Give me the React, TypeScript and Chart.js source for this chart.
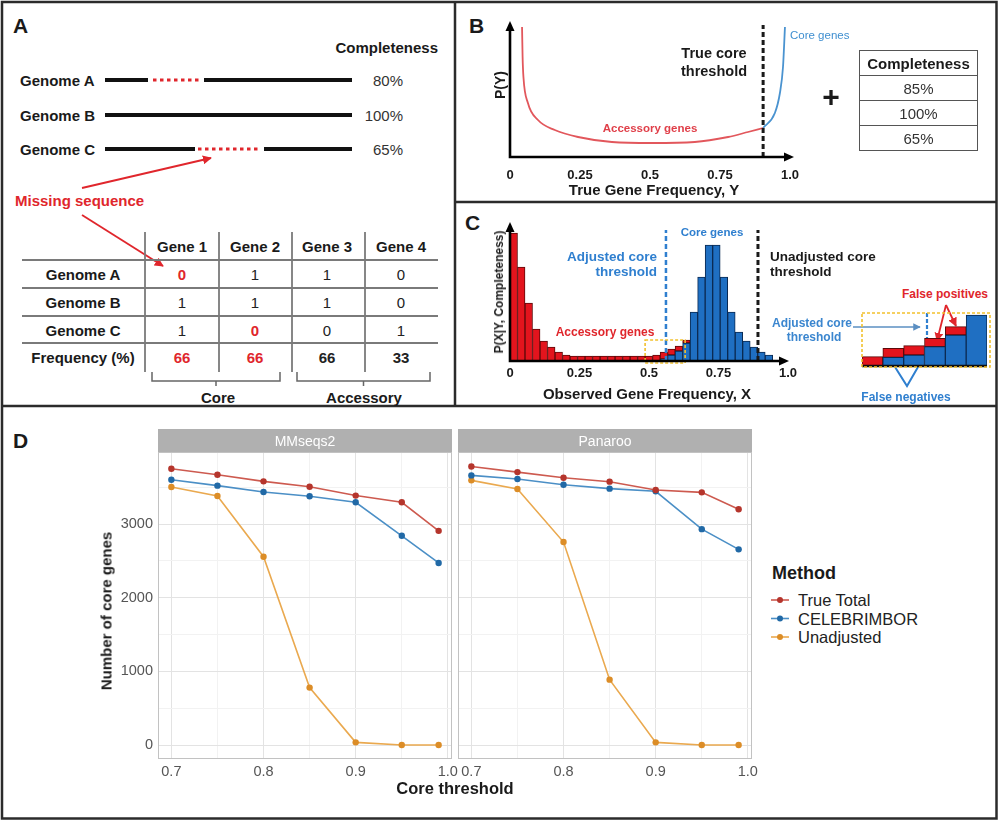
import React, { useEffect, useRef } from "react";
import { Chart, registerables } from "chart.js";

Chart.register(...registerables);

const FONT = "'Liberation Sans', Arial, Helvetica, sans-serif";
Chart.defaults.font.family = FONT;

// ---------------- Panel A (schematic) ----------------
const genomeNames = ["Genome A", "Genome B", "Genome C"];
const genomeCompleteness = ["80%", "100%", "65%"];
const geneNames = ["Gene 1", "Gene 2", "Gene 3", "Gene 4"];
const presenceMatrix = [
  [0, 1, 1, 0],
  [1, 1, 1, 0],
  [1, 0, 0, 1],
];
const missingCells = [
  [true, false, false, false],
  [false, false, false, false],
  [false, true, false, false],
];
const geneFrequency = [66, 66, 66, 33];
const frequencyHighlighted = [true, true, false, false];

// ---------------- Panel B ----------------
const accessoryTrueFreq = [0.043, 0.045, 0.048, 0.064, 0.1, 0.16, 0.243, 0.364, 0.507, 0.66, 0.779, 0.85, 0.904];
const accessoryDensity = [130, 100, 80, 54, 37, 27, 20, 15, 14, 15, 20, 25, 29];
const coreTrueFreq = [0.904, 0.946, 0.964, 0.975, 0.982];
const coreDensity = [29, 44, 64, 90, 130];
const trueCoreThreshold = 0.904;
const freqTickValues = [0, 0.25, 0.5, 0.75, 1.0];
const freqTickLabels = ["0", "0.25", "0.5", "0.75", "1.0"];
const samplingCompleteness = ["85%", "100%", "65%"];

// ---------------- Panel C ----------------
const binCenters = [
  0.0135, 0.0405, 0.0675, 0.0945, 0.1215, 0.1485, 0.1755, 0.2025, 0.2295, 0.2565, 0.2835, 0.3105,
  0.3375, 0.3645, 0.3915, 0.4185, 0.4455, 0.4725, 0.4995, 0.5265, 0.5535, 0.5805, 0.6075, 0.6345,
  0.6615, 0.6885, 0.7155, 0.7425, 0.7695, 0.7965, 0.8235, 0.8505, 0.8775, 0.9045, 0.9315,
];
const accessoryCounts = [
  128, 94, 58, 32, 20, 14, 9, 6, 5, 5, 5, 5, 5, 5, 5, 5, 5, 5, 5, 6, 7, 6, 5, 3,
  null, null, null, null, null, null, null, null, null, null, null,
];
const coreCounts = [
  null, null, null, null, null, null, null, null, null, null, null, null, null, null, null, null, null, null, null, null,
  2, 6, 10, 18, 49, 84, 116, 116, 84, 49, 29, 20, 14, 9, 6,
];
const adjustedCoreThreshold = 0.561;
const unadjustedCoreThreshold = 0.892;
const zoomWindow = [0.486, 0.63];
const zoomWindowTop = 21;
const insetBins = ["0.50", "0.53", "0.55", "0.58", "0.61", "0.63"];
const insetCore = [null, 8.7, 11, 19.3, 31, 51];
const insetAccessory = [9.3, 9, 9.3, 8.3, 8.3, null];
const insetThresholdIndex = 2.62;

// ---------------- Panel D ----------------
const thresholds = [0.7, 0.75, 0.8, 0.85, 0.9, 0.95, 0.99];
const mmseqsTrueTotal = [3753, 3672, 3581, 3509, 3388, 3297, 2909];
const mmseqsCelebrimbor = [3604, 3523, 3437, 3378, 3297, 2842, 2473];
const mmseqsUnadjusted = [3504, 3383, 2558, 780, 36, 0, 0];
const panarooTrueTotal = [3784, 3707, 3631, 3577, 3464, 3432, 3203];
const panarooCelebrimbor = [3662, 3613, 3536, 3482, 3446, 2932, 2658];
const panarooUnadjusted = [3595, 3477, 2757, 888, 36, 0, 0];
const methodNames = ["True Total", "CELEBRIMBOR", "Unadjusted"];
const facetNames = ["MMseqs2", "Panaroo"];
const thresholdTicks = [0.7, 0.75, 0.8, 0.85, 0.9, 0.95, 1.0];
const coreGeneTicks = [0, 500, 1000, 1500, 2000, 2500, 3000, 3500];
const xRangeD = [0.6855, 1.0045];
const yRangeD = [-190, 3980];

const lineColors = ["#cd5a4f", "#4b8fc6", "#eaa94f"];
const pointColors = ["#b5352c", "#2169a6", "#dc8d27"];

// ---------------- helpers ----------------
function arrowAxes(chart: any, ext: number) {
  const { ctx, chartArea } = chart;
  const { left, right, top, bottom } = chartArea;
  ctx.save();
  ctx.strokeStyle = "#000";
  ctx.fillStyle = "#000";
  ctx.lineWidth = 2.6;
  ctx.beginPath();
  ctx.moveTo(left, bottom);
  ctx.lineTo(left, top + 7);
  ctx.moveTo(left - 1.3, bottom);
  ctx.lineTo(right + ext - 7, bottom);
  ctx.stroke();
  ctx.beginPath();
  ctx.moveTo(left, top - 1);
  ctx.lineTo(left - 4.5, top + 9);
  ctx.lineTo(left + 4.5, top + 9);
  ctx.closePath();
  ctx.fill();
  ctx.beginPath();
  ctx.moveTo(right + ext + 1, bottom);
  ctx.lineTo(right + ext - 9, bottom - 4.5);
  ctx.lineTo(right + ext - 9, bottom + 4.5);
  ctx.closePath();
  ctx.fill();
  ctx.restore();
}

function vDashed(chart: any, xVal: number, yTop: number, color: string, width: number, dash: number[]) {
  const { ctx, scales } = chart;
  const px = scales.x.getPixelForValue(xVal);
  ctx.save();
  ctx.strokeStyle = color;
  ctx.lineWidth = width;
  ctx.setLineDash(dash);
  ctx.beginPath();
  ctx.moveTo(px, scales.y.getPixelForValue(0));
  ctx.lineTo(px, scales.y.getPixelForValue(yTop));
  ctx.stroke();
  ctx.restore();
}

const panelBorderPlugin = {
  id: "panelBorder",
  beforeDatasetsDraw(chart: any) {
    const { ctx, chartArea: a } = chart;
    ctx.save();
    ctx.strokeStyle = "#c2c2c2";
    ctx.lineWidth = 1;
    ctx.strokeRect(a.left + 0.5, a.top + 0.5, a.width - 1, a.height - 1);
    ctx.restore();
  },
};

const isMajorX = (v: number) => Math.abs(v * 10 - Math.round(v * 10)) < 1e-6;

function facetConfig(series: number[][], showY: boolean, padLeft: number): any {
  return {
    type: "line",
    data: {
      datasets: series.map((arr, k) => ({
        label: methodNames[k],
        data: thresholds.map((t, i) => ({ x: t, y: arr[i] })),
        borderColor: lineColors[k],
        backgroundColor: pointColors[k],
        pointBackgroundColor: pointColors[k],
        pointBorderColor: pointColors[k],
        borderWidth: 1.6,
        pointRadius: 3.2,
        pointBorderWidth: 0,
        tension: 0,
      })),
    },
    options: {
      animation: false,
      responsive: false,
      maintainAspectRatio: false,
      layout: { padding: { left: padLeft, right: 12, top: 12, bottom: 0 } },
      plugins: { legend: { display: false }, tooltip: { enabled: false } },
      scales: {
        x: {
          type: "linear",
          min: xRangeD[0],
          max: xRangeD[1],
          afterBuildTicks: (s: any) => {
            s.ticks = thresholdTicks.map((v) => ({ value: v }));
          },
          afterFit: (s: any) => {
            s.height = 32;
            s.paddingLeft = 0;
            s.paddingRight = 0;
          },
          ticks: {
            autoSkip: false,
            maxRotation: 0,
            padding: 4,
            color: "#555",
            font: { size: 14.5 },
            callback: (v: any) => (isMajorX(Number(v)) ? Number(v).toFixed(1) : ""),
          },
          grid: {
            drawTicks: false,
            lineWidth: 1,
            color: (c: any) => (c.tick && isMajorX(c.tick.value) ? "#e3e3e3" : "#f2f2f2"),
          },
          border: { display: false },
        },
        y: {
          type: "linear",
          min: yRangeD[0],
          max: yRangeD[1],
          afterBuildTicks: (s: any) => {
            s.ticks = coreGeneTicks.map((v) => ({ value: v }));
          },
          afterFit: (s: any) => {
            s.width = showY ? 63 : 0;
            s.paddingTop = 0;
            s.paddingBottom = 0;
          },
          ticks: {
            display: showY,
            padding: 5,
            color: "#555",
            font: { size: 14.5 },
            callback: (v: any) => (Number(v) % 1000 === 0 ? String(v) : ""),
          },
          grid: {
            drawTicks: false,
            lineWidth: 1,
            color: (c: any) => (c.tick && c.tick.value % 1000 === 0 ? "#e3e3e3" : "#f2f2f2"),
          },
          border: { display: false },
        },
      },
    },
    plugins: [panelBorderPlugin],
  };
}

function bConfig(): any {
  return {
    type: "line",
    data: {
      datasets: [
        {
          label: "Accessory genes",
          data: accessoryTrueFreq.map((x, i) => ({ x, y: accessoryDensity[i] })),
          borderColor: "#e2575c",
          borderWidth: 1.8,
          pointRadius: 0,
          cubicInterpolationMode: "monotone",
          fill: false,
        },
        {
          label: "Core genes",
          data: coreTrueFreq.map((x, i) => ({ x, y: coreDensity[i] })),
          borderColor: "#4a93d0",
          borderWidth: 1.8,
          pointRadius: 0,
          cubicInterpolationMode: "monotone",
          fill: false,
        },
      ],
    },
    options: {
      animation: false,
      responsive: false,
      maintainAspectRatio: false,
      layout: { padding: { left: 20, right: 20, top: 12, bottom: 0 } },
      plugins: { legend: { display: false }, tooltip: { enabled: false } },
      scales: {
        x: {
          type: "linear",
          min: 0,
          max: 1,
          afterBuildTicks: (s: any) => {
            s.ticks = freqTickValues.map((v) => ({ value: v }));
          },
          afterFit: (s: any) => {
            s.height = 40;
            s.paddingLeft = 0;
            s.paddingRight = 0;
          },
          ticks: {
            autoSkip: false,
            maxRotation: 0,
            padding: 11,
            color: "#1a1a1a",
            font: { size: 13, weight: "bold" },
            callback: (_v: any, i: number) => freqTickLabels[i],
          },
          grid: { display: false, drawTicks: false },
          border: { display: false },
        },
        y: { type: "linear", min: 0, max: 135, display: false },
      },
    },
    plugins: [
      {
        id: "bDecor",
        afterDraw(chart: any) {
          vDashed(chart, trueCoreThreshold, 132, "#1a1a1a", 3, [5, 3]);
          arrowAxes(chart, 3);
        },
      },
    ],
  };
}

function cConfig(): any {
  const barCommon = { borderWidth: 1, borderSkipped: false, barPercentage: 1, categoryPercentage: 1 };
  return {
    type: "bar",
    data: {
      datasets: [
        {
          label: "Core genes",
          data: binCenters.map((x, i) => ({ x, y: coreCounts[i] })),
          backgroundColor: "#1f6fc2",
          borderColor: "#0b2a52",
          ...barCommon,
        },
        {
          label: "Accessory genes",
          data: binCenters.map((x, i) => ({ x, y: accessoryCounts[i] })),
          backgroundColor: "#e3141d",
          borderColor: "#5c0a0a",
          ...barCommon,
        },
      ],
    },
    options: {
      animation: false,
      responsive: false,
      maintainAspectRatio: false,
      layout: { padding: { left: 20, right: 20, top: 12, bottom: 0 } },
      plugins: { legend: { display: false }, tooltip: { enabled: false } },
      scales: {
        x: {
          type: "linear",
          min: 0,
          max: 1,
          stacked: true,
          offset: false,
          afterBuildTicks: (s: any) => {
            s.ticks = freqTickValues.map((v) => ({ value: v }));
          },
          afterFit: (s: any) => {
            s.height = 36;
            s.paddingLeft = 0;
            s.paddingRight = 0;
          },
          ticks: {
            autoSkip: false,
            maxRotation: 0,
            padding: 5,
            color: "#1a1a1a",
            font: { size: 13, weight: "bold" },
            callback: (_v: any, i: number) => freqTickLabels[i],
          },
          grid: { display: false, drawTicks: false, offset: false },
          border: { display: false },
        },
        y: { type: "linear", min: 0, max: 138, stacked: true, display: false },
      },
    },
    plugins: [
      {
        id: "cDecor",
        afterDatasetsDraw(chart: any) {
          const { ctx, scales } = chart;
          vDashed(chart, adjustedCoreThreshold, 131, "#2f7fcf", 2.5, [5, 3]);
          vDashed(chart, unadjustedCoreThreshold, 131, "#1a1a1a", 3, [5, 3]);
          const x0 = scales.x.getPixelForValue(zoomWindow[0]);
          const x1 = scales.x.getPixelForValue(zoomWindow[1]);
          const yT = scales.y.getPixelForValue(zoomWindowTop);
          const yB = scales.y.getPixelForValue(0) + 2;
          ctx.save();
          ctx.strokeStyle = "#f2c12e";
          ctx.setLineDash([3, 2]);
          ctx.lineWidth = 1.6;
          ctx.strokeRect(x0, yT, x1 - x0, yB - yT);
          ctx.restore();
        },
        afterDraw(chart: any) {
          arrowAxes(chart, 0);
        },
      },
    ],
  };
}

function insetConfig(): any {
  const barCommon = { borderWidth: 1, borderSkipped: false, barPercentage: 1, categoryPercentage: 1 };
  return {
    type: "bar",
    data: {
      labels: insetBins,
      datasets: [
        { label: "Core", data: insetCore, backgroundColor: "#1f6fc2", borderColor: "#0b2a52", ...barCommon },
        { label: "Accessory", data: insetAccessory, backgroundColor: "#e3141d", borderColor: "#5c0a0a", ...barCommon },
      ],
    },
    options: {
      animation: false,
      responsive: false,
      maintainAspectRatio: false,
      layout: { padding: 10 },
      plugins: { legend: { display: false }, tooltip: { enabled: false } },
      scales: {
        x: { stacked: true, display: false },
        y: { stacked: true, display: false, min: 0, max: 53 },
      },
    },
    plugins: [
      {
        id: "insetDecor",
        afterDraw(chart: any) {
          const { ctx, chartArea: a, scales } = chart;
          ctx.save();
          ctx.strokeStyle = "#111";
          ctx.lineWidth = 2.5;
          ctx.beginPath();
          ctx.moveTo(a.left, a.bottom);
          ctx.lineTo(a.right, a.bottom);
          ctx.stroke();
          const px = scales.x.getPixelForValue(insetThresholdIndex);
          ctx.strokeStyle = "#2f7fcf";
          ctx.setLineDash([4, 2]);
          ctx.lineWidth = 2.2;
          ctx.beginPath();
          ctx.moveTo(px, a.top);
          ctx.lineTo(px, scales.y.getPixelForValue(28));
          ctx.stroke();
          ctx.strokeStyle = "#f2c12e";
          ctx.setLineDash([3, 2]);
          ctx.lineWidth = 1.6;
          ctx.strokeRect(a.left, a.top, a.width + 3, a.height + 1);
          ctx.restore();
        },
      },
    ],
  };
}

// ---------------- text helper ----------------
type TP = {
  x: number;
  y: number;
  s: number;
  b?: boolean;
  c?: string;
  a?: "l" | "c" | "r";
  rot?: boolean;
  children: React.ReactNode;
};
function Txt({ x, y, s, b, c, a = "c", rot, children }: TP) {
  const tx = a === "l" ? "0" : a === "r" ? "-100%" : "-50%";
  return (
    <div
      style={{
        position: "absolute",
        left: x,
        top: y,
        fontSize: s,
        fontWeight: b ? 700 : 400,
        color: c || "#1a1a1a",
        whiteSpace: "nowrap",
        lineHeight: 1,
        transform: `translate(${tx}, -50%)${rot ? " rotate(-90deg)" : ""}`,
      }}
    >
      {children}
    </div>
  );
}

const RED = "#e0262c";
const BLUE = "#2f7fcf";

export default function App() {
  const dL = useRef<HTMLCanvasElement>(null);
  const dR = useRef<HTMLCanvasElement>(null);
  const bRef = useRef<HTMLCanvasElement>(null);
  const cRef = useRef<HTMLCanvasElement>(null);
  const iRef = useRef<HTMLCanvasElement>(null);

  useEffect(() => {
    const charts: Chart[] = [];
    charts.push(new Chart(dL.current as any, facetConfig([mmseqsTrueTotal, mmseqsCelebrimbor, mmseqsUnadjusted], true, 0)));
    charts.push(new Chart(dR.current as any, facetConfig([panarooTrueTotal, panarooCelebrimbor, panarooUnadjusted], false, 12)));
    charts.push(new Chart(bRef.current as any, bConfig()));
    charts.push(new Chart(cRef.current as any, cConfig()));
    charts.push(new Chart(iRef.current as any, insetConfig()));
    return () => charts.forEach((c) => c.destroy());
  }, []);

  const cv = (ref: any, left: number, top: number, w: number, h: number) => (
    <canvas ref={ref} width={w} height={h} style={{ position: "absolute", left, top, width: w, height: h }} />
  );

  const colX = [182, 255, 327, 401];
  const rowY = [274, 302, 330];
  const genomeY = [80, 115, 149];
  const legendY = [600, 618.5, 637];

  return (
    <div
      style={{
        position: "absolute",
        left: 0,
        top: 0,
        width: 1000,
        height: 825,
        background: "#fff",
        fontFamily: FONT,
        overflow: "hidden",
      }}
    >
      <svg width={1000} height={825} style={{ position: "absolute", left: 0, top: 0 }}>
        <defs>
          <marker id="hR" viewBox="0 0 10 10" refX="9" refY="5" markerWidth="5" markerHeight="5" orient="auto">
            <path d="M0,0 L10,5 L0,10 z" fill={RED} />
          </marker>
          <marker id="hB" viewBox="0 0 10 10" refX="9" refY="5" markerWidth="5" markerHeight="5" orient="auto">
            <path d="M0,0 L10,5 L0,10 z" fill="#5b8fc2" />
          </marker>
        </defs>
        {/* frames */}
        <g stroke="#2b2b2b" strokeWidth={2.5} fill="none">
          <rect x={2} y={2} width={994.5} height={816.5} />
          <line x1={455} y1={2} x2={455} y2={406} />
          <line x1={455} y1={202} x2={996.5} y2={202} />
          <line x1={2} y1={406} x2={996.5} y2={406} />
        </g>
        {/* Panel A genome lines */}
        <g strokeWidth={4} fill="none">
          <line x1={105} y1={80} x2={148} y2={80} stroke="#111" />
          <line x1={153} y1={80} x2={200} y2={80} stroke={RED} strokeWidth={3} strokeDasharray="3.5 3.5" />
          <line x1={204} y1={80} x2={352} y2={80} stroke="#111" />
          <line x1={105} y1={115} x2={352} y2={115} stroke="#111" />
          <line x1={105} y1={149} x2={195} y2={149} stroke="#111" />
          <line x1={198} y1={149} x2={261} y2={149} stroke={RED} strokeWidth={3} strokeDasharray="3.5 3.5" />
          <line x1={264} y1={149} x2={352} y2={149} stroke="#111" />
        </g>
        <line x1={82} y1={188} x2={211} y2={158} stroke={RED} strokeWidth={1.8} markerEnd="url(#hR)" />
        <line x1={82} y1={215} x2={163} y2={266} stroke={RED} strokeWidth={1.8} markerEnd="url(#hR)" />
        {/* Panel A table */}
        <g stroke="#7a7a7a" strokeWidth={1.8}>
          {[260, 288, 316, 343].map((y) => (
            <line key={y} x1={22} y1={y} x2={438} y2={y} />
          ))}
          {[145, 219, 292, 365].map((x) => (
            <line key={x} x1={x} y1={232} x2={x} y2={372} />
          ))}
        </g>
        <g stroke="#666" strokeWidth={1.5} fill="none">
          <path d="M152 372 L152 381 L280 381 L280 372 M216 381 L216 386" />
          <path d="M297 372 L297 381 L430 381 L430 372 M363.5 381 L363.5 386" />
        </g>
        {/* Panel C annotations */}
        <line x1={853} y1={327} x2={920} y2={327} stroke="#5b8fc2" strokeWidth={1.5} markerEnd="url(#hB)" />
        <line x1={946} y1={305} x2={937} y2={341} stroke={RED} strokeWidth={1.8} markerEnd="url(#hR)" />
        <line x1={946} y1={305} x2={956} y2={326} stroke={RED} strokeWidth={1.8} markerEnd="url(#hR)" />
        <polyline points="895,367 907,386 918,367" stroke={BLUE} strokeWidth={2} fill="none" />
        {/* Panel D legend keys */}
        {legendY.map((y, k) => (
          <g key={k}>
            <line x1={771} y1={y} x2={789} y2={y} stroke={lineColors[k]} strokeWidth={1.6} />
            <circle cx={780} cy={y} r={3} fill={pointColors[k]} />
          </g>
        ))}
      </svg>

      {/* strips */}
      {facetNames.map((n, k) => (
        <div
          key={n}
          style={{
            position: "absolute",
            left: k === 0 ? 158 : 458,
            top: 429,
            width: 294,
            height: 23,
            background: "#b0b0b0",
          }}
        />
      ))}

      {cv(dL, 95, 440, 369, 351)}
      {cv(dR, 446, 440, 318, 351)}
      {cv(bRef, 490, 10, 320, 187)}
      {cv(cRef, 490, 211, 318, 186)}
      {cv(iRef, 852, 303, 145, 73)}

      {/* Panel A texts */}
      <Txt x={13} y={25} s={21} b a="l">A</Txt>
      <Txt x={438} y={47} s={15} b a="r">Completeness</Txt>
      {genomeNames.map((g, i) => (
        <Txt key={g} x={20} y={genomeY[i]} s={15} b a="l">{g}</Txt>
      ))}
      {genomeCompleteness.map((p, i) => (
        <Txt key={p} x={403} y={genomeY[i]} s={15} a="r" c="#333">{p}</Txt>
      ))}
      <Txt x={15} y={200} s={15} b a="l" c={RED}>Missing sequence</Txt>
      {geneNames.map((g, j) => (
        <Txt key={g} x={colX[j]} y={246} s={15} b>{g}</Txt>
      ))}
      {genomeNames.map((g, i) => (
        <Txt key={"r" + g} x={83} y={rowY[i]} s={15} b>{g}</Txt>
      ))}
      <Txt x={83} y={357} s={15} b>Frequency (%)</Txt>
      {presenceMatrix.map((row, i) =>
        row.map((v, j) => (
          <Txt key={i + "-" + j} x={colX[j]} y={rowY[i]} s={15} b={missingCells[i][j]} c={missingCells[i][j] ? RED : "#222"}>
            {v}
          </Txt>
        ))
      )}
      {geneFrequency.map((f, j) => (
        <Txt key={"f" + j} x={colX[j]} y={357} s={15} b c={frequencyHighlighted[j] ? RED : "#222"}>{f}</Txt>
      ))}
      <Txt x={218} y={397} s={15} b>Core</Txt>
      <Txt x={364} y={397} s={15} b>Accessory</Txt>

      {/* Panel B texts */}
      <Txt x={469} y={25} s={21} b a="l">B</Txt>
      <Txt x={714} y={53} s={14.5} b>True core</Txt>
      <Txt x={714} y={71} s={14.5} b>threshold</Txt>
      <Txt x={650} y={129} s={11.5} b c="#e0404a">Accessory genes</Txt>
      <Txt x={790} y={36} s={11.5} a="l" c="#3f8fd0">Core genes</Txt>
      <Txt x={500} y={85} s={14} b rot>P(Y)</Txt>
      <Txt x={654} y={189} s={15} b>True Gene Frequency, Y</Txt>
      <Txt x={831} y={97} s={30} b>+</Txt>
      <div
        style={{
          position: "absolute",
          left: 859,
          top: 50,
          width: 119,
          height: 101,
          border: "1.5px solid #555",
          boxSizing: "border-box",
          display: "flex",
          flexDirection: "column",
        }}
      >
        {["Completeness", ...samplingCompleteness].map((t, i) => (
          <div
            key={t}
            style={{
              flex: 1,
              borderTop: i ? "1.5px solid #555" : "none",
              display: "flex",
              alignItems: "center",
              justifyContent: "center",
              fontSize: 15,
              fontWeight: i ? 400 : 700,
              color: i ? "#333" : "#1a1a1a",
            }}
          >
            {t}
          </div>
        ))}
      </div>

      {/* Panel C texts */}
      <Txt x={465} y={222} s={21} b a="l">C</Txt>
      <Txt x={499} y={292} s={12} b rot>P(X|Y, Completeness)</Txt>
      <Txt x={647} y={393} s={15} b>Observed Gene Frequency, X</Txt>
      <Txt x={657} y={257} s={13.5} b a="r" c={BLUE}>Adjusted core</Txt>
      <Txt x={657} y={272} s={13.5} b a="r" c={BLUE}>threshold</Txt>
      <Txt x={712} y={233} s={11.5} b c={BLUE}>Core genes</Txt>
      <Txt x={770} y={257} s={13.5} b a="l">Unadjusted core</Txt>
      <Txt x={770} y={272} s={13.5} b a="l">threshold</Txt>
      <Txt x={605} y={332} s={12} b c={RED}>Accessory genes</Txt>
      <Txt x={812} y={323} s={12} b c="#3b86cf">Adjusted core</Txt>
      <Txt x={814} y={337} s={12} b c="#3b86cf">threshold</Txt>
      <Txt x={945} y={294} s={12} b c={RED}>False positives</Txt>
      <Txt x={906} y={397} s={12} b c={BLUE}>False negatives</Txt>

      {/* Panel D texts */}
      <Txt x={13} y={440} s={21} b a="l">D</Txt>
      {facetNames.map((n, k) => (
        <Txt key={"s" + n} x={k === 0 ? 305 : 605} y={441} s={14} c="#fff">{n}</Txt>
      ))}
      <Txt x={106} y={611} s={15} b rot>Number of core genes</Txt>
      <Txt x={455} y={788} s={16.5} b>Core threshold</Txt>
      <Txt x={772} y={573} s={18} b a="l">Method</Txt>
      {methodNames.map((m, k) => (
        <Txt key={m} x={798} y={legendY[k]} s={16.5} a="l" c="#222">{m}</Txt>
      ))}
    </div>
  );
}
